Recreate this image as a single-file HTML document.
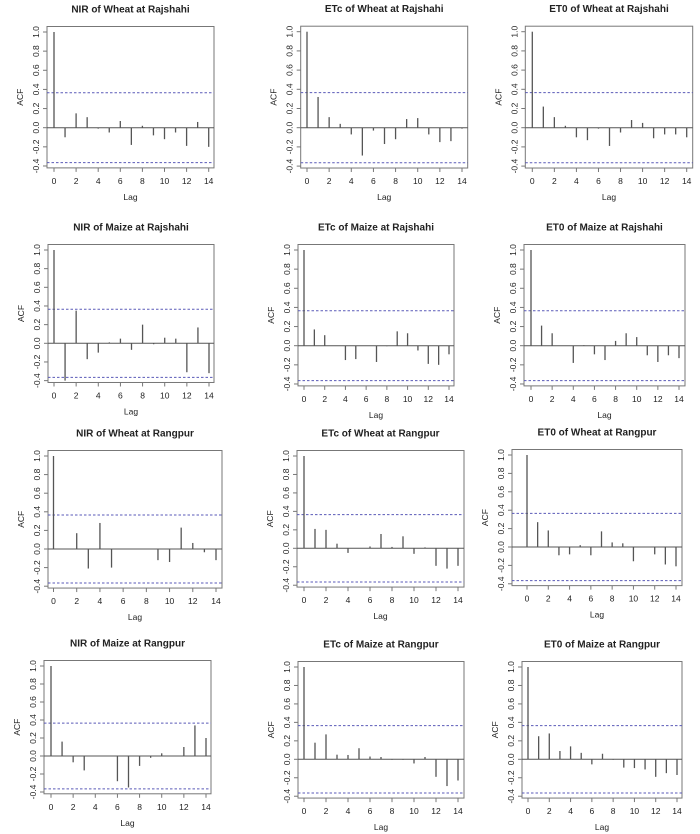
<!DOCTYPE html>
<html><head><meta charset="utf-8">
<style>
html,body{margin:0;padding:0;background:#fff;}
svg{display:block;}
text{font-family:"Liberation Sans",Arial,sans-serif;fill:#222;}
</style></head>
<body>
<svg id="s" width="700" height="834" viewBox="0 0 700 834" xmlns="http://www.w3.org/2000/svg"></svg>
<script>
var P=[
["NIR of Wheat at Rajshahi",47,214,54,208.7,32,127.7,[1,-0.1,0.15,0.11,-0.01,-0.05,0.07,-0.18,0.02,-0.08,-0.12,-0.05,-0.19,0.06,-0.2]],
["ETc of Wheat at Rajshahi",300.7,467.7,307,462,31.7,127.7,[1,0.32,0.11,0.04,-0.07,-0.29,-0.03,-0.17,-0.12,0.09,0.1,-0.07,-0.15,-0.14,-0.01]],
["ET0 of Wheat at Rajshahi",525.3,692.7,532.3,686.7,31.7,127.7,[1,0.22,0.11,0.02,-0.1,-0.13,-0.01,-0.19,-0.05,0.08,0.05,-0.11,-0.07,-0.07,-0.1]],
["NIR of Maize at Rajshahi",48,214,54,209,250,343.3,[1,-0.4,0.35,-0.17,-0.1,0.01,0.05,-0.07,0.2,-0.01,0.06,0.05,-0.31,0.17,-0.32]],
["ETc of Maize at Rajshahi",298,454,304,449,250,345.7,[1,0.17,0.11,0,-0.15,-0.14,0,-0.17,-0.005,0.15,0.13,-0.05,-0.19,-0.2,-0.09]],
["ET0 of Maize at Rajshahi",524,685,531,679,250,345.7,[1,0.21,0.13,0,-0.18,0.005,-0.09,-0.15,0.05,0.13,0.09,-0.1,-0.17,-0.1,-0.13]],
["NIR of Wheat at Rangpur",48,222,53.5,216,456,549,[1,-0.005,0.17,-0.21,0.28,-0.2,0,0,0.005,-0.12,-0.14,0.23,0.065,-0.035,-0.12]],
["ETc of Wheat at Rangpur",297,464,304,458,456,548.3,[1,0.21,0.2,0.05,-0.05,0,0.02,0.155,0.015,0.13,-0.06,0.01,-0.19,-0.22,-0.19]],
["ET0 of Wheat at Rangpur",512,682,527,676,455,547,[1,0.27,0.18,-0.09,-0.08,0.02,-0.09,0.17,0.05,0.04,-0.155,0,-0.08,-0.19,-0.21]],
["NIR of Maize at Rangpur",44,211,51,206,666,756,[1,0.16,-0.07,-0.16,0,0,-0.28,-0.35,-0.11,-0.02,0.03,0.005,0.1,0.34,0.2]],
["ETc of Maize at Rangpur",298,464,304,458,667,759.3,[1,0.18,0.27,0.05,0.047,0.12,0.03,0.025,-0.005,-0.005,-0.045,0.025,-0.19,-0.29,-0.23]],
["ET0 of Maize at Rangpur",522,682,528,677,667,759.3,[1,0.25,0.28,0.09,0.14,0.07,-0.055,0.06,-0.005,-0.09,-0.095,-0.11,-0.19,-0.15,-0.17]]
];
var h='';
P.forEach(function(p){
 var t=p[0],L=p[1],R=p[2],x0=p[3],x14=p[4],y1=p[5],y0=p[6],d=p[7];
 var s=y0-y1, T=y1-5.5, B=y0+0.42*s;
 var X=function(k){return x0+(x14-x0)*k/14;}, Y=function(v){return y0-v*s;};
 var cx=(L+R)/2;
 h+='<text x="'+cx+'" y="'+(T-14)+'" font-size="10" font-weight="bold" text-anchor="middle">'+t+'</text>';
 h+='<rect x="'+L+'" y="'+T+'" width="'+(R-L)+'" height="'+(B-T)+'" fill="none" stroke="#777" stroke-width="1"/>';
 for(var k=0;k<=14;k+=2){var x=X(k);
  h+='<line x1="'+x+'" y1="'+B+'" x2="'+x+'" y2="'+(B+4)+'" stroke="#777"/>';
  h+='<text x="'+x+'" y="'+(B+16)+'" font-size="8.5" text-anchor="middle" fill="#333">'+k+'</text>';}
 for(var i=-2;i<=5;i++){var v=i*0.2,y=Y(v),lab=v.toFixed(1);
  h+='<line x1="'+L+'" y1="'+y+'" x2="'+(L-4)+'" y2="'+y+'" stroke="#777"/>';
  h+='<text transform="translate('+(L-8)+','+y+') rotate(-90)" font-size="8.5" text-anchor="middle" fill="#333">'+lab+'</text>';}
 h+='<text x="'+cx+'" y="'+(B+32)+'" font-size="8.5" text-anchor="middle" fill="#333">Lag</text>';
 h+='<text transform="translate('+(L-24)+','+((T+B)/2)+') rotate(-90)" font-size="8.5" text-anchor="middle" fill="#333">ACF</text>';
 h+='<line x1="'+L+'" y1="'+y0+'" x2="'+R+'" y2="'+y0+'" stroke="#555" stroke-width="1"/>';
 [0.365,-0.365].forEach(function(v){h+='<line x1="'+L+'" y1="'+Y(v)+'" x2="'+R+'" y2="'+Y(v)+'" stroke="#5a5ab8" stroke-width="1" stroke-dasharray="2.5,2"/>';});
 d.forEach(function(v,k){h+='<line x1="'+X(k)+'" y1="'+y0+'" x2="'+X(k)+'" y2="'+Y(v)+'" stroke="#555" stroke-width="1.3"/>';});
});
document.getElementById('s').innerHTML=h;
</script>
</body></html>
